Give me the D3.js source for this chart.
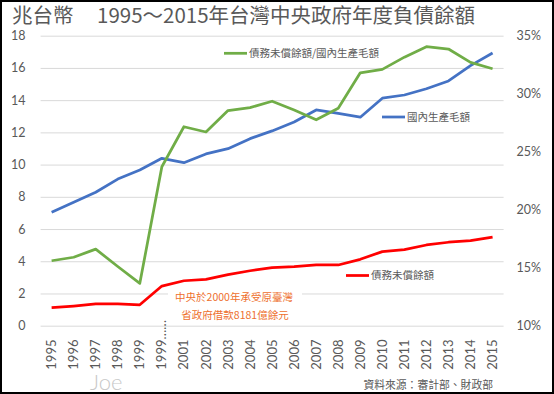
<!DOCTYPE html>
<html>
<head>
<meta charset="utf-8">
<script src="https://cdn.jsdelivr.net/npm/d3@7"></script>
<style>
  body { margin: 0; background: #fff; }
  svg { display: block; }
  text { fill: #595959; }
</style>
</head>
<body>
<script>
// data
const years = ["1995","1996","1997","1998","1999","1999……","2001","2002","2003","2004","2005",
               "2006","2007","2008","2009","2010","2011","2012","2013","2014","2015"];
// 國內生產毛額 (兆台幣)
const gdp = [7.04,7.66,8.28,9.1,9.66,10.39,10.12,10.66,10.99,11.61,12.09,
             12.64,13.39,13.18,12.94,14.12,14.32,14.71,15.19,16.14,16.93];
// 債務未償餘額 (兆台幣)
const debt = [1.12,1.22,1.35,1.35,1.3,2.46,2.79,2.88,3.17,3.41,3.6,
              3.66,3.77,3.77,4.12,4.6,4.72,5.01,5.18,5.28,5.5];
// 債務未償餘額/國內生產毛額 (%)
const ratio = [15.6,15.9,16.6,15.1,13.65,23.7,27.15,26.7,28.55,28.8,29.35,
               28.6,27.75,28.75,31.8,32.1,33.15,34.05,33.85,32.7,32.15];
const leftTicks = [0,2,4,6,8,10,12,14,16,18];
const rightTicks = [10,15,20,25,30,35];

const W = 554, H = 394;
const plotL = 40.6, plotR = 503.6, plotT = 35.7, plotB = 325.7;
const axisFont = "Lato, 'Noto Sans CJK TC', sans-serif";
const cjkFont = "'Noto Sans CJK TC', 'Noto Sans', sans-serif";

const svg = d3.select("body").append("svg")
    .attr("width", W)
    .attr("height", H);

svg.append("rect")
    .attr("x", 1).attr("y", 1)
    .attr("width", W - 2).attr("height", H - 2)
    .attr("fill", "#fff")
    .attr("stroke", "#000")
    .attr("stroke-width", 2);

const x = d3.scaleBand().domain(years).range([plotL, plotR]).padding(0);
const cx = d => x(d) + x.bandwidth() / 2;
const yL = d3.scaleLinear().domain([0, 18]).range([plotB, plotT]);
const yR = d3.scaleLinear().domain([10, 35]).range([plotB, plotT]);

// gridlines + left labels
const gL = svg.append("g")
    .attr("transform", `translate(${plotL},0)`)
    .call(d3.axisLeft(yL).tickValues(leftTicks).tickSize(-(plotR - plotL)).tickPadding(15));
gL.select(".domain").remove();
gL.selectAll("line").attr("stroke", "#d9d9d9").attr("stroke-width", 1);
gL.selectAll("text")
    .attr("font-family", axisFont).attr("font-size", 12.5).style("fill", "#595959");

// right labels
const gR = svg.append("g")
    .attr("transform", `translate(${plotR},0)`)
    .call(d3.axisRight(yR).tickValues(rightTicks).tickSize(0).tickPadding(13).tickFormat(d => d + "%"));
gR.select(".domain").remove();
gR.selectAll("text")
    .attr("font-family", axisFont).attr("font-size", 12.5).style("fill", "#595959");

// x labels, rotated
const gX = svg.append("g")
    .attr("transform", `translate(0,${plotB})`)
    .call(d3.axisBottom(x).tickSize(0));
gX.select(".domain").remove();
gX.selectAll("text")
    .attr("transform", "rotate(-90)")
    .attr("x", -44).attr("y", 0).attr("dy", "0.35em")
    .attr("text-anchor", "start")
    .attr("font-family", axisFont).attr("font-size", 13).style("fill", "#595959");

// note box
const note = svg.append("g");
note.append("rect")
    .attr("x", 168).attr("y", 285)
    .attr("width", 134).attr("height", 35)
    .attr("fill", "#fff");
note.append("text")
    .attr("x", 234).attr("y", 301)
    .attr("text-anchor", "middle")
    .attr("font-family", cjkFont).attr("font-size", 10.5)
    .style("fill", "#ee6f2d")
    .text("中央於2000年承受原臺灣");
note.append("text")
    .attr("x", 235).attr("y", 319)
    .attr("text-anchor", "middle")
    .attr("font-family", cjkFont).attr("font-size", 10.5)
    .style("fill", "#ee6f2d")
    .text("省政府借款8181億餘元");

// lines
const series = [
    {name: "國內生產毛額", values: gdp, y: yL, color: "#4472c4", lx: 382, ly: 117},
    {name: "債務未償餘額", values: debt, y: yL, color: "#ff0000", lx: 346, ly: 275.5},
    {name: "債務未償餘額/國內生產毛額", values: ratio, y: yR, color: "#70ad47", lx: 224, ly: 53.3}
];

series.forEach(s => {
    const line = d3.line()
        .x((d, i) => cx(years[i]))
        .y(d => s.y(d));
    svg.append("path")
        .datum(s.values)
        .attr("d", line)
        .attr("fill", "none")
        .attr("stroke", s.color)
        .attr("stroke-width", 2.75)
        .attr("stroke-linejoin", "round");
});

// inline legends
series.forEach(s => {
    svg.append("line")
        .attr("x1", s.lx).attr("x2", s.lx + 23)
        .attr("y1", s.ly).attr("y2", s.ly)
        .attr("stroke", s.color).attr("stroke-width", 2.75);
    svg.append("text")
        .attr("x", s.lx + 25).attr("y", s.ly).attr("dy", "0.36em")
        .attr("font-family", cjkFont).attr("font-size", 10.5)
        .text(s.name);
});

// title
svg.append("text")
    .attr("x", 12).attr("y", 22.5)
    .attr("font-family", cjkFont).attr("font-size", 20.5)
    .text("兆台幣");
svg.append("text")
    .attr("x", 97).attr("y", 22.5)
    .attr("font-family", cjkFont).attr("font-size", 20.5)
    .text("1995～2015年台灣中央政府年度負債餘額");

// footer
svg.append("text")
    .attr("x", 90).attr("y", 390)
    .attr("font-family", "Lato, sans-serif").attr("font-weight", 300).attr("font-size", 22)
    .style("fill", "#c8c8c8")
    .text("Joe");
svg.append("text")
    .attr("x", 493).attr("y", 389)
    .attr("text-anchor", "end")
    .attr("font-family", cjkFont).attr("font-size", 10.8)
    .text("資料來源：審計部、財政部");
</script>
</body>
</html>
